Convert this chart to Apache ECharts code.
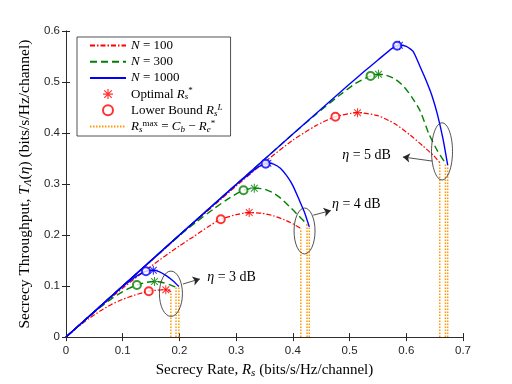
<!DOCTYPE html>
<html>
<head>
<meta charset="utf-8">
<script src="https://cdn.jsdelivr.net/npm/echarts@6/dist/echarts.min.js"></script>
<style>
  html, body { margin: 0; padding: 0; background: #fff; }
  #chart { width: 512px; height: 384px; }
</style>
</head>
<body>
<div id="chart"></div>
<script>
// values (x = secrecy rate, y = secrecy throughput)
// eta = 3 dB
const rateN100Eta3 = [0, 0.02, 0.04, 0.06, 0.08, 0.1, 0.12, 0.135, 0.146, 0.16, 0.176, 0.185];
const tputN100Eta3 = [0, 0.019, 0.036, 0.051, 0.064, 0.074, 0.082, 0.087, 0.090, 0.092, 0.093, 0.089];
const rateN300Eta3 = [0, 0.02, 0.04, 0.06, 0.08, 0.1, 0.112, 0.125, 0.14, 0.156, 0.17, 0.182, 0.194];
const tputN300Eta3 = [0, 0.02, 0.04, 0.058, 0.075, 0.089, 0.096, 0.102, 0.107, 0.109, 0.107, 0.103, 0.098];
const rateN1000Eta3 = [0, 0.05, 0.1, 0.115, 0.128, 0.141, 0.154, 0.165, 0.176, 0.188, 0.199];
const tputN1000Eta3 = [0, 0.05, 0.099, 0.112, 0.122, 0.129, 0.131, 0.128, 0.121, 0.111, 0.099];
// eta = 4 dB
const rateN100Eta4 = [0, 0.05, 0.1, 0.15, 0.2, 0.225, 0.25, 0.273, 0.3, 0.323, 0.345, 0.365, 0.385, 0.4, 0.414];
const tputN100Eta4 = [0, 0.049, 0.096, 0.139, 0.179, 0.197, 0.216, 0.231, 0.240, 0.244, 0.243, 0.238, 0.23, 0.222, 0.213];
const rateN300Eta4 = [0, 0.1, 0.2, 0.23, 0.26, 0.29, 0.313, 0.332, 0.35, 0.365, 0.38, 0.395, 0.41, 0.425];
const tputN300Eta4 = [0, 0.1, 0.199, 0.226, 0.251, 0.274, 0.288, 0.292, 0.29, 0.283, 0.271, 0.255, 0.238, 0.221];
const rateN1000Eta4 = [0, 0.1, 0.2, 0.3, 0.32, 0.338, 0.352, 0.356, 0.366, 0.378, 0.39, 0.4, 0.41, 0.42, 0.429];
const tputN1000Eta4 = [0, 0.1, 0.2, 0.299, 0.317, 0.333, 0.340, 0.341, 0.339, 0.331, 0.315, 0.297, 0.272, 0.246, 0.216];
// eta = 5 dB
const rateN100Eta5 = [0, 0.1, 0.2, 0.3, 0.35, 0.4, 0.44, 0.475, 0.514, 0.55, 0.58, 0.607, 0.63, 0.648, 0.659];
const tputN100Eta5 = [0, 0.1, 0.199, 0.296, 0.343, 0.386, 0.414, 0.432, 0.440, 0.434, 0.418, 0.396, 0.374, 0.356, 0.342];
const rateN300Eta5 = [0, 0.1, 0.2, 0.3, 0.4, 0.44, 0.48, 0.51, 0.537, 0.551, 0.565, 0.58, 0.595, 0.61, 0.625, 0.64, 0.655, 0.669];
const tputN300Eta5 = [0, 0.1, 0.2, 0.299, 0.398, 0.436, 0.472, 0.497, 0.512, 0.515, 0.513, 0.506, 0.492, 0.47, 0.442, 0.398, 0.365, 0.341];
const rateN1000Eta5 = [0, 0.1, 0.2, 0.3, 0.4, 0.45, 0.5, 0.525, 0.55, 0.575, 0.588, 0.6, 0.612, 0.624, 0.635, 0.645, 0.655, 0.665, 0.673];
const tputN1000Eta5 = [0, 0.1, 0.2, 0.299, 0.398, 0.447, 0.496, 0.52, 0.543, 0.566, 0.572, 0.57, 0.56, 0.531, 0.503, 0.474, 0.436, 0.387, 0.337];

// markers: [rate, throughput, N index]  (0 -> N=100, 1 -> N=300, 2 -> N=1000)
const optimalPts = [
  [0.176, 0.093, 0], [0.156, 0.109, 1], [0.154, 0.131, 2],
  [0.323, 0.244, 0], [0.332, 0.292, 1], [0.356, 0.341, 2],
  [0.514, 0.440, 0], [0.551, 0.515, 1], [0.588, 0.572, 2]
];
const lowerBoundPts = [
  [0.146, 0.090, 0], [0.125, 0.102, 1], [0.141, 0.129, 2],
  [0.273, 0.231, 0], [0.313, 0.288, 1], [0.352, 0.340, 2],
  [0.475, 0.432, 0], [0.537, 0.512, 1], [0.584, 0.571, 2]
];
// R_s^max vertical lines: [rate, top]
const rmaxLines = [
  [0.185, 0.089], [0.194, 0.098], [0.199, 0.099],
  [0.414, 0.213], [0.425, 0.221], [0.429, 0.216],
  [0.659, 0.342], [0.669, 0.341], [0.673, 0.337]
];
// annotations: ellipse [cx, cy, rx, ry], arrow [x1, y1, x2, y2], label [x, y]
const ellipses = [[0.185, 0.085, 0.0203, 0.0444], [0.4206, 0.208, 0.0185, 0.045], [0.663, 0.364, 0.0185, 0.056]];
const arrows = [[0.206, 0.104, 0.236, 0.114], [0.436, 0.239, 0.467, 0.248], [0.646, 0.345, 0.594, 0.353]];
const labelPos = [[0.249, 0.118], [0.469, 0.261], [0.487, 0.357]];
const labelText = ['{i|η} = 3 dB', '{i|η} = 4 dB', '{i|η} = 5 dB'];

const colors = ['#ff0000', '#008000', '#0000ff'];
const names = ['N = 100', 'N = 300', 'N = 1000'];
const dashes = [[5, 2, 1.5, 2], [7, 4], 'solid'];
const serif = 'Liberation Serif';

const zip = (xs, ys) => xs.map((x, i) => [x, ys[i]]);

const curves = [
  [rateN100Eta3, tputN100Eta3, 0], [rateN300Eta3, tputN300Eta3, 1], [rateN1000Eta3, tputN1000Eta3, 2],
  [rateN100Eta4, tputN100Eta4, 0], [rateN300Eta4, tputN300Eta4, 1], [rateN1000Eta4, tputN1000Eta4, 2],
  [rateN100Eta5, tputN100Eta5, 0], [rateN300Eta5, tputN300Eta5, 1], [rateN1000Eta5, tputN1000Eta5, 2]
];

const series = [];
// N=100 first so the legend order follows
[0, 1, 2].forEach(n => {
  curves.filter(c => c[2] === n).forEach(c => {
    series.push({
      name: names[n],
      type: 'line',
      data: zip(c[0], c[1]),
      smooth: 0.2,
      symbol: 'none',
      lineStyle: { color: colors[n], width: n === 0 ? 1.2 : 1.4, type: dashes[n] },
      itemStyle: { color: colors[n] },
      z: 3 + n
    });
  });
});

const starPath = 'path://M-0.7,-6L0.7,-6L0.7,6L-0.7,6Z M-6,-0.7L6,-0.7L6,0.7L-6,0.7Z M-5,-4L-4,-5L5,4L4,5Z M4,-5L5,-4L-4,5L-5,4Z';

series.push({
  name: 'Optimal',
  type: 'scatter',
  symbol: starPath,
  symbolSize: 9,
  itemStyle: { color: colors[0] },
  data: optimalPts.map(p => ({ value: [p[0], p[1]], itemStyle: { color: colors[p[2]] } })),
  z: 10
});
series.push({
  name: 'Lower Bound',
  type: 'scatter',
  symbol: 'emptyCircle',
  symbolSize: 8,
  itemStyle: { color: colors[0], borderWidth: 1.3 },
  data: lowerBoundPts.map(p => ({ value: [p[0], p[1]], itemStyle: { color: colors[p[2]], borderColor: colors[p[2]] } })),
  z: 10
});

const rmaxData = [];
rmaxLines.forEach(l => { rmaxData.push([l[0], 0], [l[0], l[1]], [l[0], '-']); });
series.push({
  name: 'Rmax',
  type: 'line',
  data: rmaxData,
  symbol: 'none',
  connectNulls: false,
  lineStyle: { color: '#ff9a00', width: 1.5, type: [1.5, 1.5] },
  itemStyle: { color: '#ff9a00' },
  z: 2
});

series.push({
  name: 'ellipse',
  type: 'custom',
  silent: true,
  data: ellipses,
  renderItem: (params, api) => {
    const c = api.coord([api.value(0), api.value(1)]);
    const s = api.size([api.value(2), api.value(3)]);
    return {
      type: 'ellipse',
      shape: { cx: c[0], cy: c[1], rx: s[0], ry: s[1] },
      style: { fill: 'none', stroke: '#262626', lineWidth: 0.8 }
    };
  },
  z: 6
});

series.push({
  name: 'arrow',
  type: 'lines',
  coordinateSystem: 'cartesian2d',
  silent: true,
  symbol: ['none', 'arrow'],
  symbolSize: 7,
  lineStyle: { color: '#262626', width: 0.8, opacity: 1 },
  data: arrows.map(a => ({ coords: [[a[0], a[1]], [a[2], a[3]]] })),
  z: 6
});

series.push({
  name: 'label',
  type: 'custom',
  silent: true,
  data: labelPos,
  renderItem: (params, api) => {
    const c = api.coord([api.value(0), api.value(1)]);
    return {
      type: 'text',
      x: c[0],
      y: c[1],
      style: {
        text: labelText[params.dataIndex],
        fontFamily: serif,
        fontSize: 14,
        fill: '#000',
        verticalAlign: 'middle',
        align: 'left',
        rich: { i: { fontFamily: serif, fontStyle: 'italic', fontSize: 14 } }
      }
    };
  },
  z: 7
});

function makeRich(fs) {
  const s = Math.round(fs * 0.7);
  return {
    i: { fontFamily: serif, fontStyle: 'italic', fontSize: fs, color: '#000' },
    sub: { fontFamily: serif, fontStyle: 'italic', fontSize: s, verticalAlign: 'bottom', lineHeight: 8, color: '#000' },
    subr: { fontFamily: serif, fontSize: s, verticalAlign: 'bottom', lineHeight: 8, color: '#000' },
    sup: { fontFamily: serif, fontSize: s, verticalAlign: 'top', lineHeight: 8, color: '#000' },
    supi: { fontFamily: serif, fontStyle: 'italic', fontSize: s, verticalAlign: 'top', lineHeight: 8, color: '#000' }
  };
}

const legendText = {
  'N = 100': '{i|N} = 100',
  'N = 300': '{i|N} = 300',
  'N = 1000': '{i|N} = 1000',
  'Optimal': 'Optimal {i|R}{sub|s}{sup|*}',
  'Lower Bound': 'Lower Bound {i|R}{sub|s}{supi|L}',
  'Rmax': '{i|R}{sub|s}{sup|max} = {i|C}{sub|b} − {i|R}{sub|e}{sup|*}'
};

const axisCol = '#262626';
const tickFont = { fontFamily: 'Liberation Sans', fontSize: 11.5, color: axisCol };
const hideSym = { opacity: 0 };

const option = {
  backgroundColor: '#fff',
  animation: false,
  grid: { left: 66, right: 49, top: 31, bottom: 42 },
  legend: {
    data: [
      { name: 'N = 100', itemStyle: hideSym },
      { name: 'N = 300', itemStyle: hideSym },
      { name: 'N = 1000', itemStyle: hideSym },
      'Optimal', 'Lower Bound',
      { name: 'Rmax', itemStyle: hideSym }
    ],
    orient: 'vertical',
    left: 77,
    top: 37,
    itemWidth: 36,
    itemHeight: 10,
    itemGap: 1.2,
    padding: [1, 8, 2, 12],
    backgroundColor: '#fff',
    borderColor: axisCol,
    borderWidth: 0.8,
    selectedMode: false,
    formatter: name => legendText[name],
    textStyle: { fontFamily: serif, fontSize: 13, color: '#000', lineHeight: 15, rich: makeRich(13) }
  },
  xAxis: [{
    type: 'value', min: 0, max: 0.7, interval: 0.1,
    name: 'Secrecy Rate, {i|R}{sub|s} (bits/s/Hz/channel)',
    nameLocation: 'middle', nameGap: 20,
    nameTextStyle: { fontFamily: serif, fontSize: 15, color: '#000', lineHeight: 17, rich: makeRich(15) },
    axisLine: { lineStyle: { color: axisCol, width: 0.8 } },
    axisTick: { inside: true, length: 4, lineStyle: { color: axisCol } },
    axisLabel: Object.assign({ margin: 8 }, tickFont),
    splitLine: { show: false }
  }, {
    type: 'value', min: 0, max: 0.7, interval: 0.1, position: 'top',
    axisLine: { lineStyle: { color: axisCol, width: 0.8 } },
    axisTick: { inside: true, length: 4, lineStyle: { color: axisCol } },
    axisLabel: { show: false },
    splitLine: { show: false }
  }],
  yAxis: [{
    type: 'value', min: 0, max: 0.6, interval: 0.1,
    name: 'Secrecy Throughput, {i|T}{sub|Λ}({i|η}) (bits/s/Hz/channel)',
    nameLocation: 'middle', nameGap: 30, nameRotate: 90,
    nameTextStyle: { fontFamily: serif, fontSize: 15.5, color: '#000', lineHeight: 17, rich: makeRich(15.5) },
    axisLine: { show: true, lineStyle: { color: axisCol, width: 0.8 } },
    axisTick: { show: true, inside: true, length: 4, lineStyle: { color: axisCol } },
    axisLabel: Object.assign({ margin: 6 }, tickFont),
    splitLine: { show: false }
  }, {
    type: 'value', min: 0, max: 0.6, interval: 0.1, position: 'right',
    axisLine: { show: true, lineStyle: { color: axisCol, width: 0.8 } },
    axisTick: { show: true, inside: true, length: 4, lineStyle: { color: axisCol } },
    axisLabel: { show: false },
    splitLine: { show: false }
  }],
  series: series
};

const chart = echarts.init(document.getElementById('chart'));
chart.setOption(option);
</script>
</body>
</html>
